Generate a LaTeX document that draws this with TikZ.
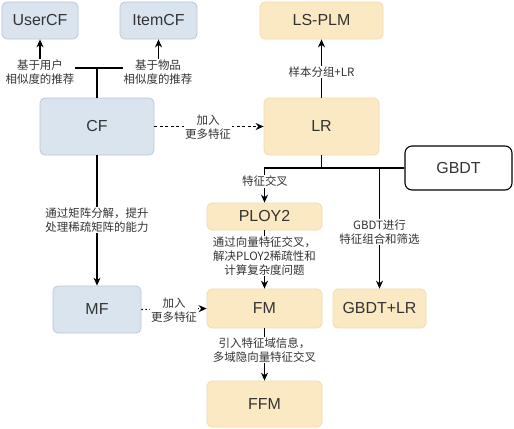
\documentclass[tikz,border=0pt]{standalone}
\usepackage{fontspec}
\setmainfont{Noto Sans CJK SC}
\newfontfamily\boxfont{Liberation Sans}
\usetikzlibrary{arrows.meta}
\definecolor{bfill}{HTML}{D9E4EE}
\definecolor{bline}{HTML}{B8C9D8}
\definecolor{ofill}{HTML}{FBE9C4}
\definecolor{oline}{HTML}{F0DBAE}
\definecolor{txt}{HTML}{333333}
\tikzset{
  box/.style={rounded corners=5bp, line width=0.8bp, text=txt,
    font=\boxfont\fontsize{16}{19}\selectfont, inner sep=0pt},
  bluebox/.style={box, draw=bline, fill=bfill},
  orgbox/.style={box, draw=oline, fill=ofill},
  whitebox/.style={box, draw=black, fill=white, line width=1.1bp, rounded corners=7bp},
  lbl/.style={fill=white, text=txt, align=center, inner sep=1pt,
    font=\fontsize{11.5}{14}\selectfont},
  conn/.style={line width=1.1bp, draw=black},
  arr/.style={conn, -{Stealth[length=8bp,width=7bp]}},
}
\begin{document}
\begin{tikzpicture}[x=1bp,y=-1bp]
\useasboundingbox[fill=white] (0,0) rectangle (514,428);
% nodes
\node[bluebox, minimum width=76bp, minimum height=37bp] (usercf) at (40,20.5) {UserCF};
\node[bluebox, minimum width=77bp, minimum height=37bp] (itemcf) at (158.5,20.5) {ItemCF};
\node[bluebox, minimum width=114bp, minimum height=57bp] (cf) at (97,126.5) {CF};
\node[bluebox, minimum width=88bp, minimum height=47bp] (mf) at (97,309.5) {MF};
\node[orgbox, minimum width=123bp, minimum height=37bp] (lsplm) at (321.5,20.5) {LS-PLM};
\node[orgbox, minimum width=115bp, minimum height=57bp] (lr) at (321.5,126.5) {LR};
\node[whitebox, minimum width=107bp, minimum height=44bp] (gbdt) at (458.5,168) {GBDT};
\node[orgbox, minimum width=115bp, minimum height=27bp] (ploy) at (264.5,216.5) {PLOY2};
\node[orgbox, minimum width=115bp, minimum height=39bp] (fm) at (264.5,308.5) {FM};
\node[orgbox, minimum width=115bp, minimum height=46bp] (ffm) at (264.5,404) {FFM};
\node[orgbox, minimum width=93bp, minimum height=39bp] (gbdtlr) at (379.5,308.5) {GBDT+LR};
% junctions
\coordinate (jcf) at (97,68);
\coordinate (jlr) at (321.5,168);
\coordinate (jg) at (379.5,168);
% CF -> UserCF / ItemCF
\draw[conn] (cf.north) -- (jcf);
\draw[arr] (jcf) -| (usercf.south);
\draw[arr] (jcf) -| (itemcf.south);
\node[lbl] (l1) at (40,72) {基于用户\\相似度的推荐};
\node[lbl] (l2) at (158,72) {基于物品\\相似度的推荐};
% CF -> LR
\draw[conn, dash pattern=on 3bp off 2.5bp, -{Stealth[length=8bp,width=7bp]}] (cf.east) -- (lr.west);
\node[lbl] (l3) at (208,127) {加入\\更多特征};
% LR -> LS-PLM
\draw[arr] (lr.north) -- (lsplm.south);
\node[lbl] (l4) at (321.5,72) {样本分组+LR};
% LR branches
\draw[conn] (lr.south) -- (jlr);
\draw[arr] (jlr) -| (ploy.north);
\draw[arr] (jlr) -| (gbdtlr.north);
\draw[conn] (gbdt.west) -- (jg);
\node[lbl] (l5) at (265,181.5) {特征交叉};
\node[lbl] (l6) at (379.5,232) {GBDT进行\\特征组合和筛选};
% PLOY2 -> FM -> FFM
\draw[arr] (ploy.south) -- (fm.north);
\node[lbl] (l7) at (264.5,256) {通过向量特征交叉，\\解决PLOY2稀疏性和\\计算复杂度问题};
\draw[arr] (fm.south) -- (ffm.north);
\node[lbl] (l8) at (264.5,350) {引入特征域信息，\\多域隐向量特征交叉};
% CF -> MF
\draw[arr] (cf.south) -- (mf.north);
\node[lbl] (l9) at (97,220) {通过矩阵分解，提升\\处理稀疏矩阵的能力};
% MF -> FM
\draw[conn, dash pattern=on 1.5bp off 2.5bp, -{Stealth[length=8bp,width=7bp]}] (mf.east) -- (fm.west);
\node[lbl] (l10) at (174,310) {加入\\更多特征};
\end{tikzpicture}
\end{document}
